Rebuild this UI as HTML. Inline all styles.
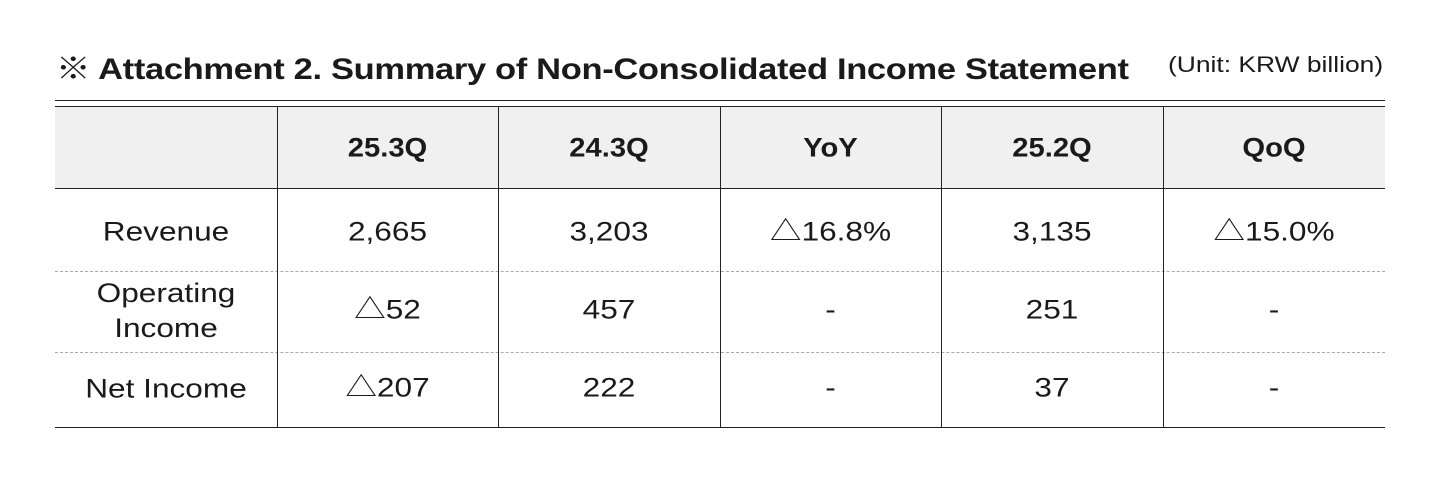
<!DOCTYPE html>
<html><head><style>
body{margin:0;width:1440px;height:480px;background:#fff;font-family:"Liberation Sans","Noto Sans CJK KR",sans-serif;color:#1a1a1a;position:relative;overflow:hidden}
.t{position:absolute;left:56px;top:44px;font-size:30px;font-weight:bold;letter-spacing:-0.3px;transform:scaleX(1.15);transform-origin:left center;white-space:nowrap}
.u{position:absolute;left:1168px;top:52px;font-size:22px;transform:scaleX(1.2);transform-origin:left center;white-space:nowrap}
.l{position:absolute;left:55px;width:1330px;height:0}
.v{position:absolute;top:106px;height:322px;width:0;border-left:1.5px solid #222}
.c{position:absolute;text-align:center;font-size:27px;transform:translateY(-50%) scaleX(1.17);line-height:35px}
.h{font-weight:bold;transform:translateY(-50%) scaleX(1.08)}
</style></head><body>
<div class="t">※ Attachment 2. Summary of Non-Consolidated Income Statement</div>
<div class="u">(Unit: KRW billion)</div>
<div class="l" style="top:100px;border-top:1.5px solid #222"></div>
<div style="position:absolute;left:55px;top:106px;width:1330px;height:83px;background:#f0f0f0"></div>
<div class="l" style="top:106px;border-top:1.5px solid #222"></div>
<div class="l" style="top:188px;border-top:1.5px solid #222"></div>
<div class="l" style="top:271px;border-top:1px dashed #aaa"></div>
<div class="l" style="top:352px;border-top:1px dashed #aaa"></div>
<div class="l" style="top:427px;border-top:1.5px solid #222"></div>
<div class="v" style="left:277px"></div><div class="v" style="left:498px"></div><div class="v" style="left:720px"></div><div class="v" style="left:941px"></div><div class="v" style="left:1163px"></div>

<div class="c h" style="left:277px;width:221px;top:148px">25.3Q</div>
<div class="c h" style="left:498px;width:222px;top:148px">24.3Q</div>
<div class="c h" style="left:720px;width:221px;top:148px">YoY</div>
<div class="c h" style="left:941px;width:222px;top:148px">25.2Q</div>
<div class="c h" style="left:1163px;width:222px;top:148px">QoQ</div>

<div class="c" style="left:55px;width:222px;top:232px">Revenue</div>
<div class="c" style="left:277px;width:221px;top:232px">2,665</div>
<div class="c" style="left:498px;width:222px;top:232px">3,203</div>
<div class="c" style="left:720px;width:221px;top:232px">△16.8%</div>
<div class="c" style="left:941px;width:222px;top:232px">3,135</div>
<div class="c" style="left:1163px;width:222px;top:232px">△15.0%</div>

<div class="c" style="left:55px;width:222px;top:311px">Operating<br>Income</div>
<div class="c" style="left:277px;width:221px;top:310px">△52</div>
<div class="c" style="left:498px;width:222px;top:310px">457</div>
<div class="c" style="left:720px;width:221px;top:310px">-</div>
<div class="c" style="left:941px;width:222px;top:310px">251</div>
<div class="c" style="left:1163px;width:222px;top:310px">-</div>

<div class="c" style="left:55px;width:222px;top:389px">Net Income</div>
<div class="c" style="left:277px;width:221px;top:388px">△207</div>
<div class="c" style="left:498px;width:222px;top:388px">222</div>
<div class="c" style="left:720px;width:221px;top:388px">-</div>
<div class="c" style="left:941px;width:222px;top:388px">37</div>
<div class="c" style="left:1163px;width:222px;top:388px">-</div>
</body></html>
